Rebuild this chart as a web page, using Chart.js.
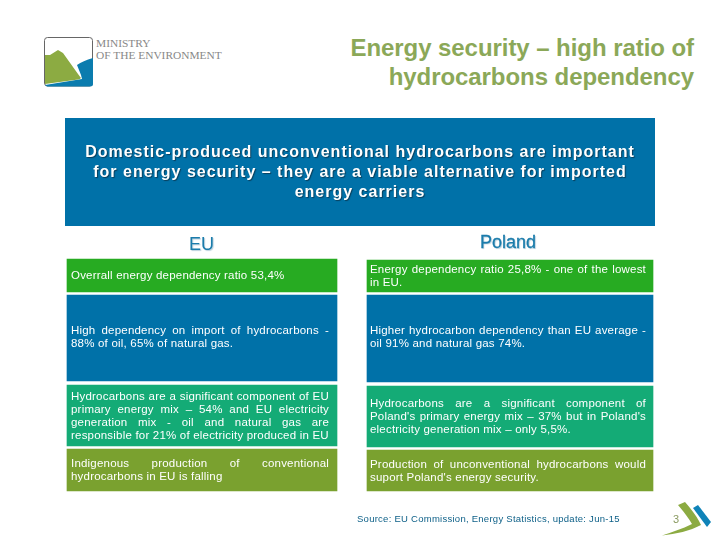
<!DOCTYPE html>
<html>
<head>
<meta charset="utf-8">
<script src="https://cdn.jsdelivr.net/npm/chart.js@4"></script>
<style>
html,body{margin:0;padding:0;background:#fff;}
#page{position:relative;width:720px;height:540px;overflow:hidden;font-family:"Liberation Sans",Arial,sans-serif;}
canvas{position:absolute;left:0;top:0;}
.abs{position:absolute;}
#title{right:26px;top:33px;text-align:right;color:#8ba858;font-size:24px;line-height:29px;font-weight:700;letter-spacing:-.06px;white-space:nowrap;}
#header{left:65px;top:118px;width:590px;height:108px;background:#0071a8;}
#headText{left:65px;top:142px;width:590px;text-align:center;color:#fff;font-size:16px;font-weight:700;line-height:20px;letter-spacing:1px;text-shadow:1px 1px 1px #093f5c;white-space:nowrap;}
.col{color:#1b7cab;text-shadow:1px 1px 1px #b9cfdc;white-space:nowrap;}
#eu{left:189px;top:234px;font-size:18px;line-height:21px;}
#pl{left:480px;top:232px;font-size:18px;line-height:21px;-webkit-text-stroke:.3px #1b7cab;}
.cell{position:absolute;color:#fff;font-size:11.5px;line-height:13px;letter-spacing:.2px;display:flex;flex-direction:column;justify-content:center;box-sizing:border-box;}
.cell div{text-align:justify;white-space:nowrap;}
.cell div.j{text-align-last:justify;}
#source{left:357px;top:513px;color:#0c5f87;font-size:9.5px;line-height:12px;letter-spacing:.26px;white-space:nowrap;}
#pnum{left:673px;top:513px;color:#8a9a60;font-size:11px;line-height:13px;}
.logoT{font-family:"Liberation Serif",serif;color:#888;font-size:11.4px;line-height:12px;white-space:nowrap;}
#art{left:0;top:0;}
</style>
</head>
<body>
<div id="page">
  <svg class="abs" id="art" width="720" height="540" viewBox="0 0 720 540">
    <rect x="44.5" y="37.5" width="48" height="48.5" rx="3" fill="#fff" stroke="#666" stroke-width="1"/>
    <path d="M93 58 C86 60 81 62 77 65 L81 75 L82 79 L45 85 L47 86.5 L90 86.5 Q93 86.5 93 84Z" fill="#0b7cae"/>
    <path d="M45 55 L50 55 L58 50 L63 53 L78 74 L81 78 Q80 79 78 79.5 L45 84Z" fill="#8cab42"/>
    <path d="M678 505 L685 502 C692 510 698 518 701 525 C690 531 676 534 662 535.5 C672 532 682 529 692 524 C688 517 683 511 678 505Z" fill="#8cab42"/>
    <path d="M693 508 L698 505 L711 522 L707 527Z" fill="#0f83b8"/>
  </svg>
  <div class="abs logoT" style="left:96px;top:37px">MINISTRY</div>
  <div class="abs logoT" style="left:96px;top:49px">OF THE ENVIRONMENT</div>
  <div class="abs" id="title">Energy security – high ratio of<br>hydrocarbons dependency</div>
  <div class="abs" id="header"></div>
  <canvas id="c" width="720" height="540"></canvas>
  <div class="abs" id="headText">Domestic-produced unconventional hydrocarbons are important<br>for energy security – they are a viable alternative for imported<br>energy carriers</div>
  <div class="abs col" id="eu"></div>
  <div class="abs col" id="pl"></div>
  <div class="abs" id="source">Source: EU Commission, Energy Statistics, update: Jun-15</div>
  <div class="abs" id="pnum">3</div>
</div>
<script>
const columns = ["EU", "Poland"];
const rowNames = ["Dependency ratio", "Import dependency", "Energy mix", "Production"];

const euSpans = [[259, 292], [295, 381], [385, 446], [449, 491]];
const polandSpans = [[260, 292], [295, 382], [386, 447], [450, 491]];

const euText = [
  ["Overrall energy dependency ratio 53,4%"],
  ["High dependency on import of hydrocarbons -", "88% of oil, 65% of natural gas."],
  ["Hydrocarbons are a significant component of EU", "primary energy mix – 54% and EU electricity", "generation mix - oil and natural gas are", "responsible for 21% of electricity produced in EU"],
  ["Indigenous production of conventional", "hydrocarbons in EU is falling"]
];
const polandText = [
  ["Energy dependency ratio 25,8% - one of the lowest", "in EU."],
  ["Higher hydrocarbon dependency than EU average -", "oil 91% and natural gas 74%."],
  ["Hydrocarbons are a significant component of", "Poland's primary energy mix – 37% but in Poland's", "electricity generation mix – only 5,5%."],
  ["Production of unconventional hydrocarbons would", "suport Poland's energy security."]
];
const rowColors = ["#27ab22", "#0071a8", "#14ab76", "#7aa12f"];

document.getElementById("eu").textContent = columns[0];
document.getElementById("pl").textContent = columns[1];

const datasets = [];
rowNames.forEach((name, i) => {
  datasets.push({label: "EU " + name, data: [euSpans[i], null], backgroundColor: rowColors[i], barThickness: 270, grouped: false, _lines: euText[i], _pad: [4, 8], _row: i});
  datasets.push({label: "Poland " + name, data: [null, polandSpans[i]], backgroundColor: rowColors[i], barThickness: 286, grouped: false, _lines: polandText[i], _pad: [3, 7], _row: i});
});

const textPlugin = {
  id: "cellText",
  afterRender(chart) {
    if (chart.$done) return;
    chart.$done = true;
    const page = document.getElementById("page");
    chart.data.datasets.forEach((ds, di) => {
      const el = chart.getDatasetMeta(di).data[ds.data[0] ? 0 : 1];
      const p = el.getProps(["x", "y", "base", "width"], true);
      const cell = document.createElement("div");
      cell.className = "cell";
      const top = Math.min(p.y, p.base), bot = Math.max(p.y, p.base);
      cell.style.left = (p.x - p.width / 2 + ds._pad[0]) + "px";
      cell.style.width = (p.width - ds._pad[0] - ds._pad[1]) + "px";
      cell.style.top = top + "px";
      cell.style.height = (bot - top) + "px";
      if (ds._row === 1) cell.style.paddingBottom = "3px";
      ds._lines.forEach((t, li) => {
        const line = document.createElement("div");
        line.textContent = t;
        if (li < ds._lines.length - 1) line.className = "j";
        cell.appendChild(line);
      });
      page.appendChild(cell);
    });
  }
};

new Chart(document.getElementById("c"), {
  type: "bar",
  data: {labels: columns, datasets},
  plugins: [textPlugin],
  options: {
    responsive: false,
    animation: false,
    devicePixelRatio: 1,
    layout: {padding: {left: 48, right: 56, top: 0, bottom: 0}},
    plugins: {legend: {display: false}, tooltip: {enabled: false}, title: {display: false}},
    scales: {
      x: {display: false, type: "category"},
      y: {display: false, type: "linear", min: 0, max: 540, reverse: true}
    }
  }
});
</script>
</body>
</html>
